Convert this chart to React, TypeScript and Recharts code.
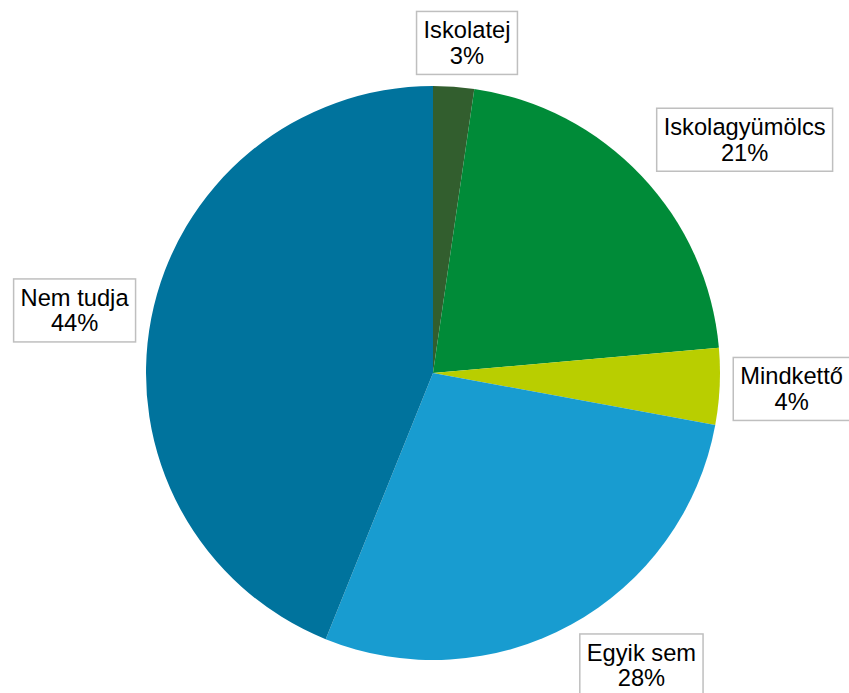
import React from "react";
import { PieChart, Pie, Cell } from "recharts";

const categories = ["Iskolatej", "Iskolagyümölcs", "Mindkettő", "Egyik sem", "Nem tudja"];
const shares = [2.3, 21.3, 4.3, 28.2, 43.9];
const shareLabels = ["3%", "21%", "4%", "28%", "44%"];
const colors = ["#325E2E", "#008B38", "#B9CE00", "#189CD0", "#00739D"];

// label box nudges relative to a polar anchor (layout only)
const LABEL_RADIUS = 360;
const LABEL_NUDGE: [number, number][] = [
  [8, 29],
  [50, 14],
  [-1, -1],
  [35, -23],
  [-5, 6],
];

const FONT_SIZE = 23.7;
const FONT = "'Liberation Sans', Arial, sans-serif";

const data = categories.map((name, i) => ({ name, value: shares[i], label: shareLabels[i] }));

let ctx: CanvasRenderingContext2D | null = null;
function measure(text: string): number {
  if (typeof document !== "undefined") {
    if (!ctx) ctx = document.createElement("canvas").getContext("2d");
    if (ctx) {
      ctx.font = `${FONT_SIZE}px 'Liberation Sans', Arial, sans-serif`;
      return ctx.measureText(text).width;
    }
  }
  return text.length * FONT_SIZE * 0.5;
}

const RAD = Math.PI / 180;

const renderLabel = (props: any) => {
  const { cx, cy, midAngle, index, name } = props;
  const [nx, ny] = LABEL_NUDGE[index] || [0, 0];
  const x = cx + LABEL_RADIUS * Math.cos(-midAngle * RAD) + nx;
  const y = cy + LABEL_RADIUS * Math.sin(-midAngle * RAD) + ny;
  const l1 = String(name);
  const l2 = data[index].label;
  const w = Math.max(measure(l1), measure(l2)) + 14;
  const h = 63;
  return (
    <g key={`lbl-${index}`}>
      <rect x={x - w / 2} y={y - h / 2} width={w} height={h} fill="#FFFFFF" stroke="#BFBFBF" strokeWidth={1.5} />
      <text x={x} y={y - 12.5} textAnchor="middle" dominantBaseline="central" fontSize={FONT_SIZE} fontFamily={FONT} fill="#000000">
        {l1}
      </text>
      <text x={x} y={y + 13} textAnchor="middle" dominantBaseline="central" fontSize={FONT_SIZE} fontFamily={FONT} fill="#000000">
        {l2}
      </text>
    </g>
  );
};

export default function App() {
  return (
    <div style={{ position: "fixed", left: 0, top: 0, width: 849, height: 693, background: "#FFFFFF" }}>
      <PieChart width={849} height={693} margin={{ top: 0, right: 0, bottom: 0, left: 0 }}>
        <Pie
          data={data}
          dataKey="value"
          nameKey="name"
          cx={433}
          cy={373}
          outerRadius={287}
          innerRadius={0}
          startAngle={90}
          endAngle={-270}
          stroke="none"
          isAnimationActive={false}
          labelLine={false}
          label={renderLabel}
        >
          {data.map((d, i) => (
            <Cell key={d.name} fill={colors[i]} />
          ))}
        </Pie>
      </PieChart>
    </div>
  );
}
